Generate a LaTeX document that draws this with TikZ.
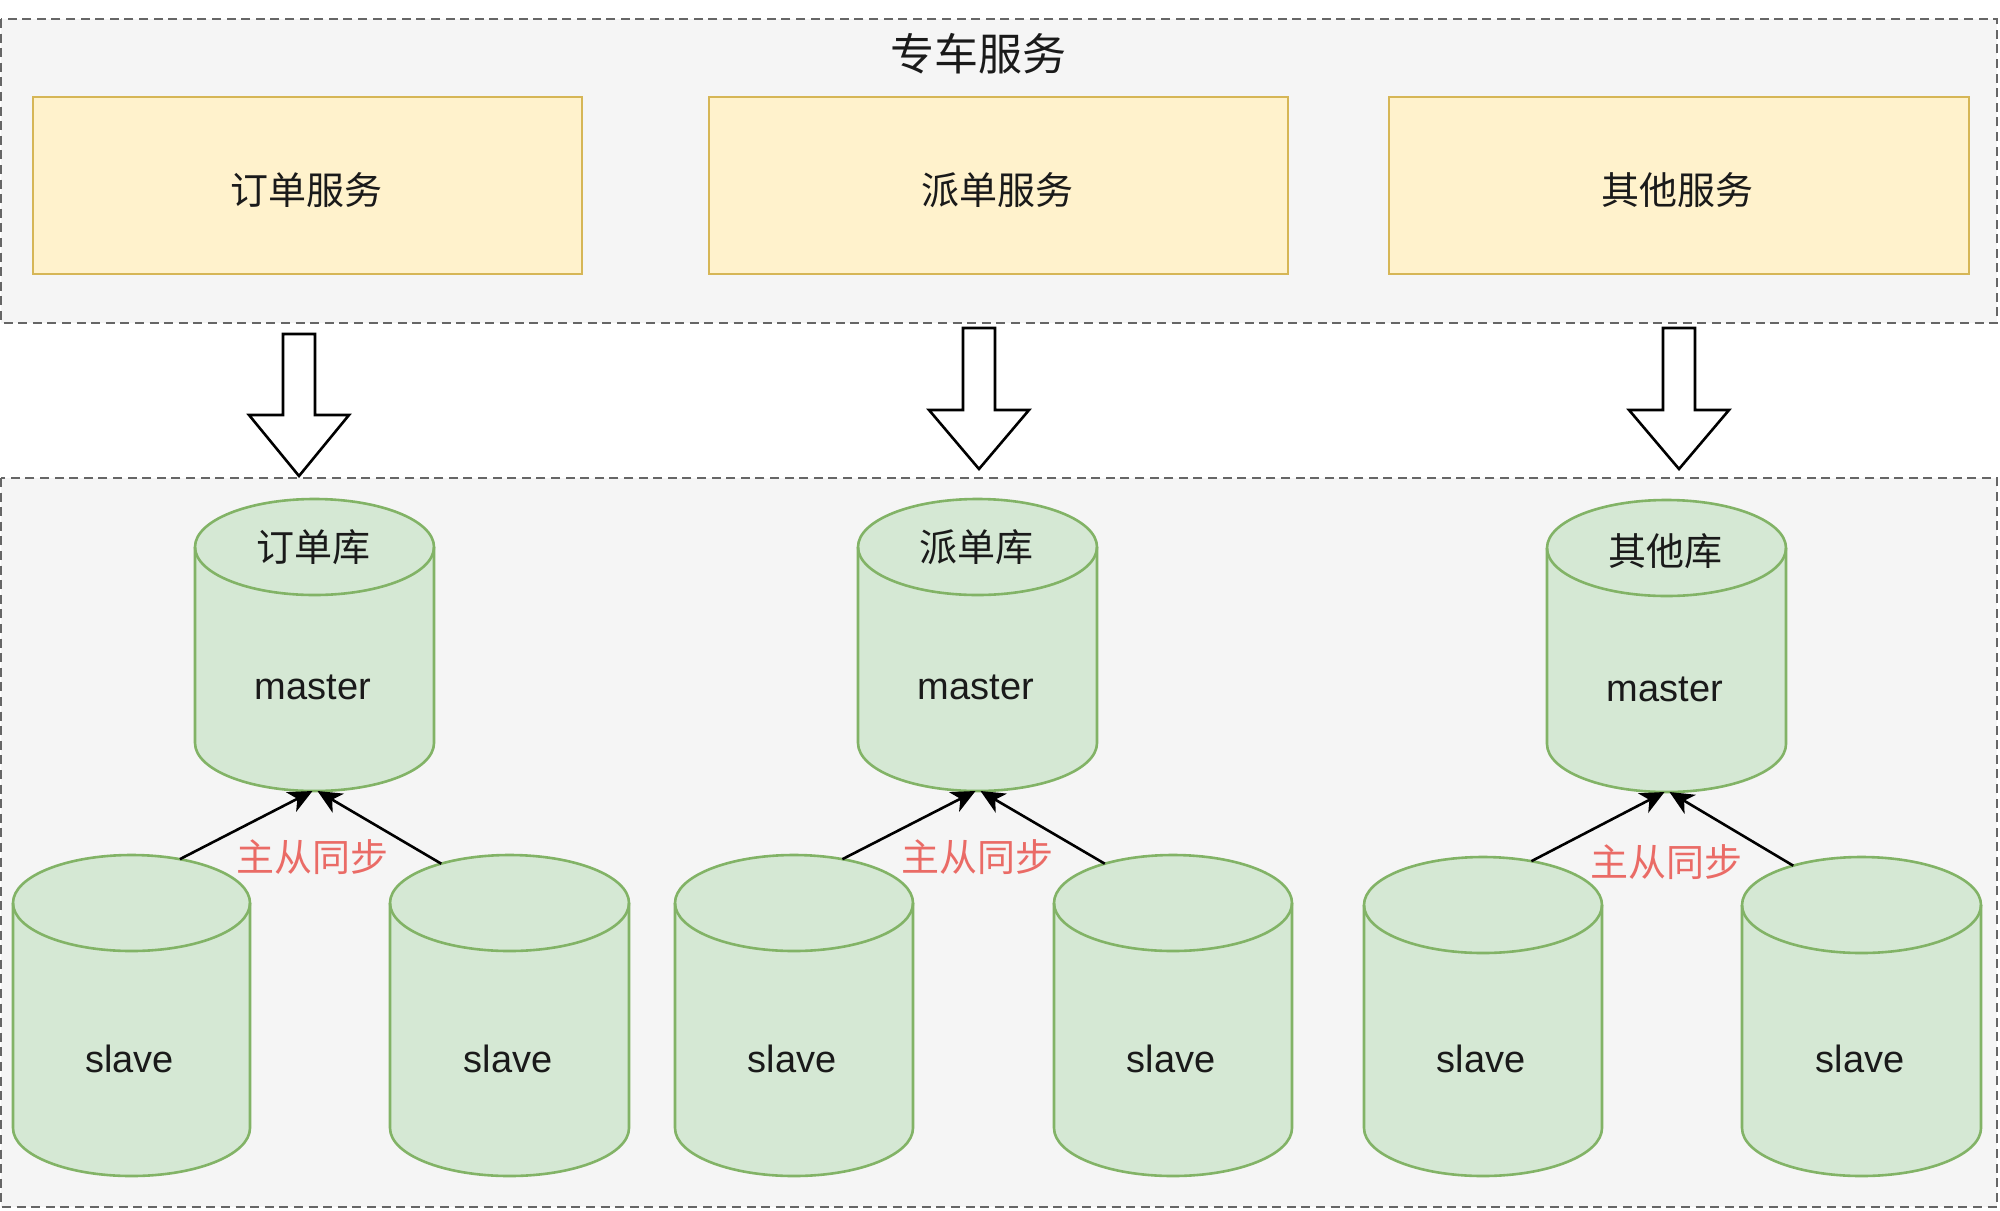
\documentclass[tikz,border=0pt]{standalone}
\usepackage{fontspec}
\setmainfont{Liberation Sans}
\newfontfamily\cjk{Noto Sans CJK SC}
\usetikzlibrary{arrows.meta,calc}
\definecolor{contfill}{HTML}{F5F5F5}
\definecolor{contline}{HTML}{666666}
\definecolor{yfill}{HTML}{FFF2CC}
\definecolor{yline}{HTML}{D6B656}
\definecolor{gfill}{HTML}{D5E8D4}
\definecolor{gline}{HTML}{82B366}
\definecolor{redtxt}{HTML}{EA6B66}
\definecolor{txt}{HTML}{1A1A1A}
\tikzset{
  cont/.style={fill=contfill, draw=contline, line width=1.3pt, dash pattern=on 4.5pt off 2.8pt},
  svc/.style={fill=yfill, draw=yline, line width=1.3pt, inner sep=0pt, text=txt, font=\cjk\fontsize{19}{22}\selectfont},
  dbshape/.style={fill=gfill, draw=gline, line width=1.3pt},
  cjklabel/.style={inner sep=0pt, text=txt, font=\cjk\fontsize{19}{22}\selectfont},
  latlabel/.style={inner sep=0pt, text=txt, font=\fontsize{19}{22}\selectfont},
  titlelabel/.style={inner sep=0pt, text=txt, font=\cjk\fontsize{22}{26}\selectfont},
  synclabel/.style={inner sep=0pt, text=redtxt, font=\cjk\fontsize{19}{22}\selectfont},
  blk/.style={fill=white, draw=black, line width=1.3pt, line join=miter},
  sync/.style={draw=black, line width=1.3pt, -{Stealth[length=12pt,width=11pt,inset=3.5pt]}}
}
\newcommand\dbcyl[5]{%
  \pgfmathsetmacro\dbcx{(#2+#4)/2}%
  \pgfmathsetmacro\dbrx{(#4-#2)/2}%
  \pgfmathsetmacro\dbta{-(#3)-48}%
  \pgfmathsetmacro\dbba{-(#5)+48}%
  \filldraw[dbshape] (#2,\dbta) -- (#2,\dbba) arc[start angle=180,end angle=360,x radius=\dbrx,y radius=48] -- (#4,\dbta) arc[start angle=0,end angle=180,x radius=\dbrx,y radius=48] -- cycle;
  \draw[dbshape, fill=none] (#2,\dbta) arc[start angle=180,end angle=360,x radius=\dbrx,y radius=48];
  \coordinate (#1-c) at (\dbcx,\dbta);
  \coordinate (#1-b) at (\dbcx,-#5);
}
\newcommand\blockarrow[4]{%
  \draw[blk] (#1-16,-#2) -- (#1+16,-#2) -- (#1+16,-#3) -- (#1+50,-#3) -- (#1,-#4) -- (#1-50,-#3) -- (#1-16,-#3) -- cycle;
}
\begin{document}
\begin{tikzpicture}[x=0.5pt,y=0.5pt]
\useasboundingbox (0,0) rectangle (2000,-1210);
% containers
\draw[cont] (1,-19) rectangle (1997,-323);
\draw[cont] (1,-478) rectangle (1997,-1207);
\node[titlelabel] (title) at (978,-54) {专车服务};
% services
\node[svc, minimum width=274.5pt, minimum height=88.5pt] (s1) at (307.5,-185.5) {};
\node[svc, minimum width=289.5pt, minimum height=88.5pt] (s2) at (998.5,-185.5) {};
\node[svc, minimum width=290pt, minimum height=88.5pt] (s3) at (1679,-185.5) {};
\node[cjklabel] (s1t) at (306,-190) {订单服务};
\node[cjklabel] (s2t) at (997,-190) {派单服务};
\node[cjklabel] (s3t) at (1677,-190) {其他服务};
% block arrows
\blockarrow{299}{334}{415}{476}
\blockarrow{979}{328}{410}{469}
\blockarrow{1679}{328}{410}{469}
% masters
\dbcyl{m1}{195}{499}{434}{791}
\dbcyl{m2}{858}{499}{1097}{791}
\dbcyl{m3}{1547}{500}{1786}{792}
\node[cjklabel] (m1t) at (313,-547) {订单库};
\node[cjklabel] (m2t) at (976,-547) {派单库};
\node[cjklabel] (m3t) at (1665,-551) {其他库};
\node[latlabel] (m1l) at (313,-687) {master};
\node[latlabel] (m2l) at (976,-687) {master};
\node[latlabel] (m3l) at (1665,-689) {master};
% slaves
\dbcyl{a1}{13}{855}{250}{1176}
\dbcyl{a2}{390}{855}{629}{1176}
\dbcyl{b1}{675}{855}{913}{1176}
\dbcyl{b2}{1054}{855}{1292}{1176}
\dbcyl{c1}{1364}{857}{1602}{1176}
\dbcyl{c2}{1742}{857}{1981}{1176}
\node[latlabel] (a1l) at (129.5,-1059) {slave};
\node[latlabel] (a2l) at (508,-1059) {slave};
\node[latlabel] (b1l) at (792,-1059) {slave};
\node[latlabel] (b2l) at (1171,-1059) {slave};
\node[latlabel] (c1l) at (1481,-1059) {slave};
\node[latlabel] (c2l) at (1860,-1059) {slave};
% sync arrows
\draw[sync] ($(a1-c)+(66:119 and 48)$) -- ($(m1-b)+(-2,0)$);
\draw[sync] ($(a2-c)+(125:119 and 48)$) -- ($(m1-b)+(3,0)$);
\draw[sync] ($(b1-c)+(66:119 and 48)$) -- ($(m2-b)+(-2,0)$);
\draw[sync] ($(b2-c)+(125:119 and 48)$) -- ($(m2-b)+(3,0)$);
\draw[sync] ($(c1-c)+(66:119 and 48)$) -- ($(m3-b)+(-2,0)$);
\draw[sync] ($(c2-c)+(125:119 and 48)$) -- ($(m3-b)+(3,0)$);
\node[synclabel] (y1) at (312,-857) {主从同步};
\node[synclabel] (y2) at (977,-857) {主从同步};
\node[synclabel] (y3) at (1666,-862) {主从同步};
\end{tikzpicture}
\end{document}
